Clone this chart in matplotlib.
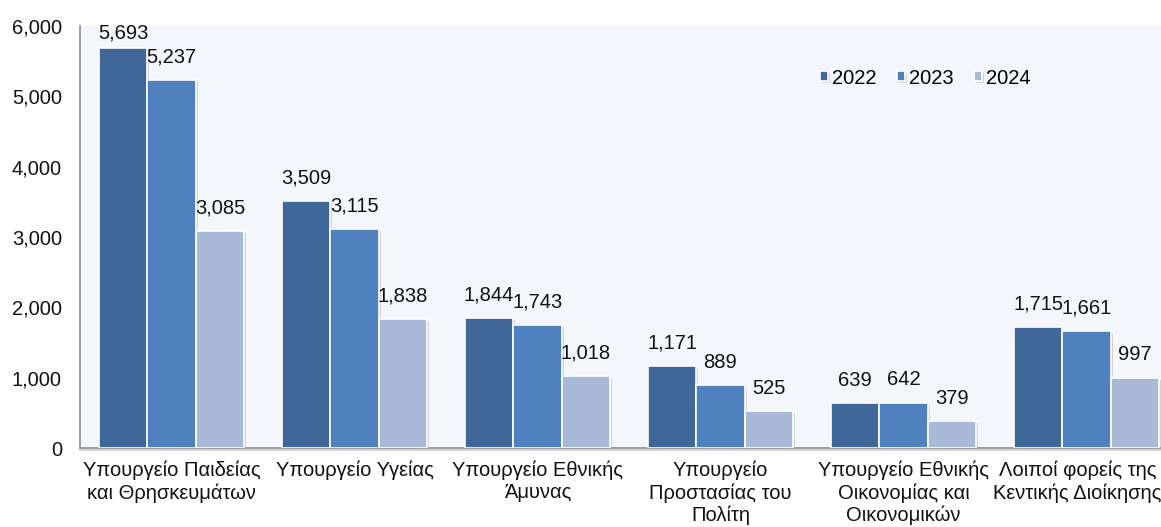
import matplotlib
matplotlib.use("Agg")
import matplotlib.pyplot as plt
import matplotlib.patheffects as pe
import matplotlib.transforms as mtransforms
import numpy as np

categories = [
    "Υπουργείο Παιδείας\nκαι Θρησκευμάτων",
    "Υπουργείο Υγείας",
    "Υπουργείο Εθνικής\nΆμυνας",
    "Υπουργείο\nΠροστασίας του\nΠολίτη",
    "Υπουργείο Εθνικής\nΟικονομίας και\nΟικονομικών",
    "Λοιποί φορείς της\nΚεντικής Διοίκησης",
]
series_names = ["2022", "2023", "2024"]
v2022 = [5693, 3509, 1844, 1171, 639, 1715]
v2023 = [5237, 3115, 1743, 889, 642, 1661]
v2024 = [3085, 1838, 1018, 525, 379, 997]
yticks = [0, 1000, 2000, 3000, 4000, 5000, 6000]

colors = ["#3f6899", "#4e81bd", "#a9b9d8"]

plt.rcParams["font.family"] = ["Liberation Sans", "DejaVu Sans"]
fs = 14.5

W, H = 1161, 527
fig = plt.figure(figsize=(W / 100, H / 100), dpi=100)
fig.patch.set_facecolor("white")
ax = fig.add_axes([80 / W, 1 - 448 / H, (1178 - 80) / W, (448 - 26) / H])
ax.set_facecolor("#f3f7fb")

x = np.arange(len(categories))
bw = 0.265
shadow = [pe.SimplePatchShadow(offset=(1.5, -1.5), shadow_rgbFace="#b0b0b0", alpha=0.5), pe.Normal()]
for i, (vals, name, c) in enumerate(zip([v2022, v2023, v2024], series_names, colors)):
    pos = x + (i - 1) * bw
    bars = ax.bar(pos, vals, width=bw, color=c, edgecolor="white", linewidth=1.2, label=name, zorder=3)
    for b in bars:
        b.set_path_effects(shadow)
    for p, v in zip(pos, vals):
        yl = min(v + 327, 5900)
        ax.text(p, yl, f"{v:,}", ha="center", va="center", fontsize=fs, color="#111111", zorder=5)

ax.set_xlim(-0.5, len(categories) - 0.5)
ax.set_ylim(0, 6000)
ax.set_yticks(yticks)
ax.set_yticklabels([f"{t:,}" for t in yticks], fontsize=fs, color="#111111")
ax.tick_params(axis="y", length=0, pad=13)
ax.set_xticks(x)
ax.set_xticklabels(categories, fontsize=fs, color="#111111", linespacing=1.2, va="top")
ax.tick_params(axis="x", length=0, pad=9)

# last category label sits slightly left, as in the reference
last = ax.get_xticklabels()[-1]
last.set_transform(last.get_transform() + mtransforms.ScaledTranslation(-9 / 100, 0, fig.dpi_scale_trans))

for s in ["top", "right"]:
    ax.spines[s].set_visible(False)
for s in ["left", "bottom"]:
    ax.spines[s].set_color("#8c8c8c")
    ax.spines[s].set_linewidth(1.2)
ax.spines["bottom"].set_path_effects([pe.SimpleLineShadow(offset=(0, -1.5), shadow_color="#999999", alpha=0.5), pe.Normal()])

fig.legend(loc="center left", bbox_to_anchor=(820 / W, 1 - 78 / H), ncol=3, frameon=False,
           fontsize=fs, handlelength=0.4, handleheight=0.4, handletextpad=0.2, columnspacing=1.0,
           borderpad=0, borderaxespad=0)

fig.savefig("out.png", dpi=100, facecolor="white")
